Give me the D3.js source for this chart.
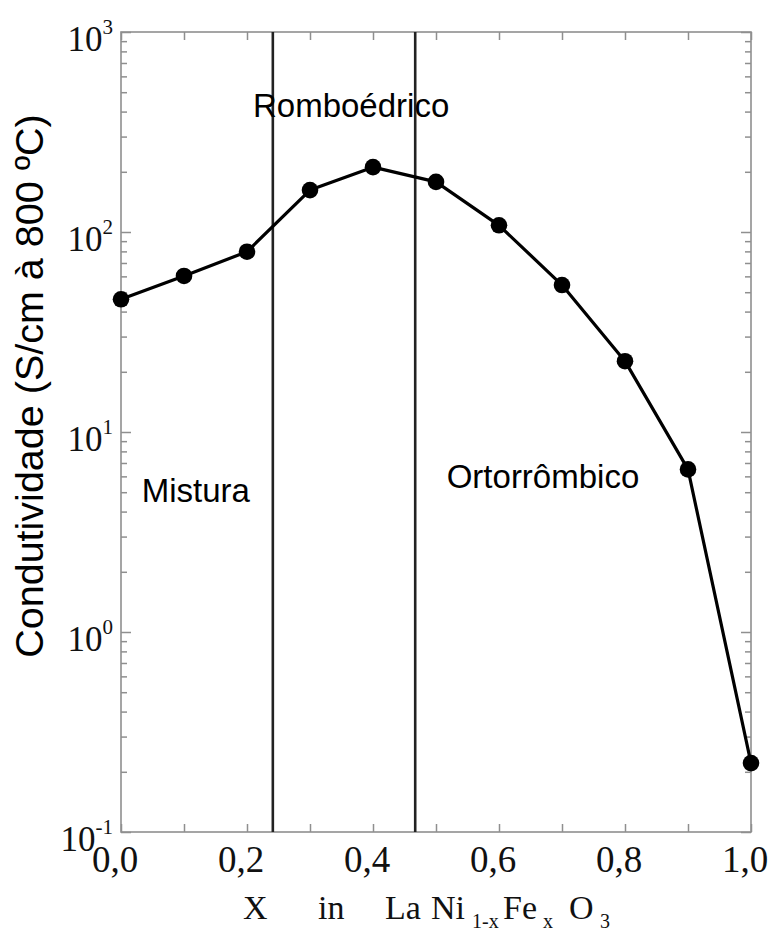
<!DOCTYPE html>
<html>
<head>
<meta charset="utf-8">
<script src="https://cdn.jsdelivr.net/npm/d3@7"></script>
<style>
  html, body { margin: 0; padding: 0; background: #fff; }
  svg { display: block; }
</style>
</head>
<body>
<script>
// Composition x of LaNi(1-x)Fe(x)O3 and conductivity at 800 °C (S/cm)
const compositions = [0.0, 0.1, 0.2, 0.3, 0.4, 0.5, 0.6, 0.7, 0.8, 0.9, 1.0];
const conductivity = [46.1, 60.3, 79.7, 162, 211, 178, 108, 54.3, 22.6, 6.5, 0.221];
// Phase boundaries (x)
const phaseBoundaries = [0.241, 0.467];
// Phase names
const phaseNames = ["Mistura", "Romboédrico", "Ortorrômbico"];
// Axis ticks
const xMajorTicks = [0.0, 0.2, 0.4, 0.6, 0.8, 1.0];
const xTickLabels = ["0,0", "0,2", "0,4", "0,6", "0,8", "1,0"];
const xMinorTicks = [0.1, 0.3, 0.5, 0.7, 0.9];
const yExponents = [-1, 0, 1, 2, 3];
const yTitle = "Condutividade (S/cm à 800 ºC)";

(function () {
const W = 776, H = 933;
const pLeft = 121, pRight = 751, pTop = 32, pBottom = 832;
const serif = "'Liberation Serif', 'Times New Roman', serif";
const sans = "'Liberation Sans', Arial, sans-serif";

const svg = d3.select("body").append("svg")
  .attr("width", W).attr("height", H)
  .attr("viewBox", `0 0 ${W} ${H}`);

const x = d3.scaleLinear().domain([0, 1]).range([pLeft, pRight]);
const y = d3.scaleLog().domain([0.1, 1000]).range([pBottom, pTop]);

const axisColor = "#8f8f8f";

// Minor log ticks (2..9 per decade)
const yMinor = [];
yExponents.slice(0, -1).forEach(e => {
  for (let m = 2; m <= 9; m++) yMinor.push(m * Math.pow(10, e));
});
const yMajor = yExponents.map(e => Math.pow(10, e));

function styleAxis(g) {
  g.select(".domain").remove();
  g.selectAll(".tick line").attr("stroke", axisColor).attr("stroke-width", 1.5);
  g.selectAll(".tick text").remove();
}

// Left and right y ticks, pointing inward
svg.append("g").attr("transform", `translate(${pLeft},0)`)
  .call(d3.axisLeft(y).tickValues(yMajor).tickSize(-10).tickFormat(""))
  .call(styleAxis);
svg.append("g").attr("transform", `translate(${pLeft},0)`)
  .call(d3.axisLeft(y).tickValues(yMinor).tickSize(-6).tickFormat(""))
  .call(styleAxis);
svg.append("g").attr("transform", `translate(${pRight},0)`)
  .call(d3.axisRight(y).tickValues(yMajor).tickSize(-10).tickFormat(""))
  .call(styleAxis);
svg.append("g").attr("transform", `translate(${pRight},0)`)
  .call(d3.axisRight(y).tickValues(yMinor).tickSize(-6).tickFormat(""))
  .call(styleAxis);

// Bottom and top x ticks, pointing inward
const xAll = xMajorTicks.concat(xMinorTicks);
svg.append("g").attr("transform", `translate(0,${pBottom})`)
  .call(d3.axisBottom(x).tickValues(xAll).tickSize(-8).tickFormat(""))
  .call(styleAxis);
svg.append("g").attr("transform", `translate(0,${pTop})`)
  .call(d3.axisTop(x).tickValues(xAll).tickSize(-8).tickFormat(""))
  .call(styleAxis);

// Frame
svg.append("rect")
  .attr("x", pLeft).attr("y", pTop)
  .attr("width", pRight - pLeft).attr("height", pBottom - pTop)
  .attr("fill", "none").attr("stroke", axisColor).attr("stroke-width", 1.6);

// Y tick labels: 10 with superscript exponent
yExponents.forEach(e => {
  const t = svg.append("text")
    .attr("x", 113).attr("y", y(Math.pow(10, e)) + 19)
    .attr("text-anchor", "end")
    .attr("font-family", serif).attr("font-size", 35).attr("fill", "#111");
  t.append("tspan").text("10");
  t.append("tspan").attr("dy", -17).attr("font-size", 21).text(String(e));
});

// X tick labels
svg.append("g").selectAll("text")
  .data(xMajorTicks)
  .join("text")
  .attr("x", d => x(d) - 6)
  .attr("y", 872)
  .attr("text-anchor", "middle")
  .attr("font-family", serif).attr("font-size", 37).attr("fill", "#111")
  .text((d, i) => xTickLabels[i]);

// X title: X  in  La Ni(1-x) Fe(x) O3
const xTitle = svg.append("g")
  .attr("font-family", serif).attr("fill", "#111");
const titleParts = [
  { t: "X", px: 243, sub: false },
  { t: "in", px: 318, sub: false },
  { t: "La", px: 385, sub: false },
  { t: "Ni", px: 431, sub: false },
  { t: "1-x", px: 472, sub: true },
  { t: "Fe", px: 503, sub: false },
  { t: "x", px: 543, sub: true },
  { t: "O", px: 569, sub: false },
  { t: "3", px: 600, sub: true }
];
titleParts.forEach(p => {
  xTitle.append("text")
    .attr("x", p.px)
    .attr("y", p.sub ? 928 : 919)
    .attr("font-size", p.sub ? 20 : 34)
    .text(p.t);
});

// Y title
svg.append("text")
  .attr("transform", `translate(43,386) rotate(-90)`)
  .attr("text-anchor", "middle")
  .attr("font-family", sans).attr("font-size", 39.5).attr("fill", "#000")
  .text(yTitle);

// Phase boundaries
svg.append("g").selectAll("line")
  .data(phaseBoundaries)
  .join("line")
  .attr("x1", d => x(d)).attr("x2", d => x(d))
  .attr("y1", pTop).attr("y2", pBottom)
  .attr("stroke", "#222").attr("stroke-width", 2.6);

// Phase labels
const phasePos = [
  { x: 0.033, v: 4.47 },
  { x: 0.2095, v: 376 },
  { x: 0.517, v: 5.25 }
];
svg.append("g").selectAll("text")
  .data(phaseNames)
  .join("text")
  .attr("x", (d, i) => x(phasePos[i].x))
  .attr("y", (d, i) => y(phasePos[i].v))
  .attr("font-family", sans).attr("font-size", 33).attr("fill", "#000")
  .text(d => d);

// Conductivity curve
const pts = compositions.map((c, i) => [c, conductivity[i]]);
svg.append("path")
  .datum(pts)
  .attr("fill", "none").attr("stroke", "#000").attr("stroke-width", 3.2)
  .attr("stroke-linejoin", "round")
  .attr("d", d3.line().x(d => x(d[0])).y(d => y(d[1])));

svg.append("g").selectAll("circle")
  .data(pts)
  .join("circle")
  .attr("cx", d => x(d[0])).attr("cy", d => y(d[1]))
  .attr("r", 8.3).attr("fill", "#000");
})();
</script>
</body>
</html>
